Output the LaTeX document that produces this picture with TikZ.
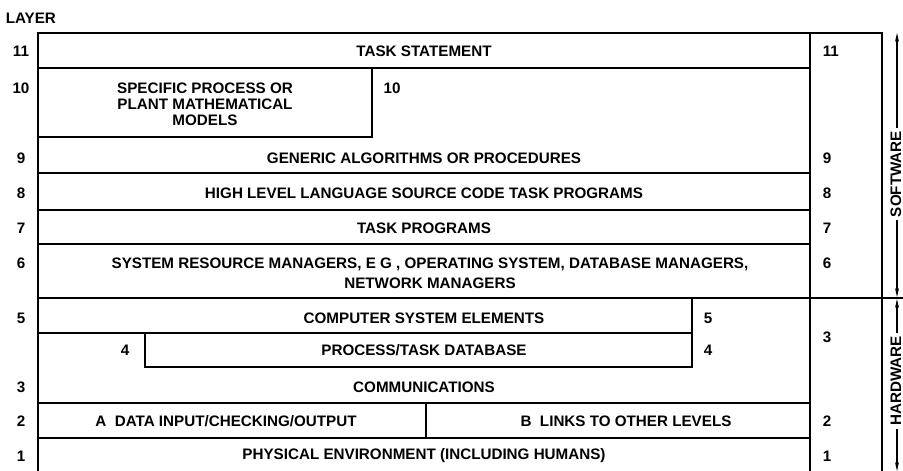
\documentclass[tikz,border=0pt]{standalone}
\usepackage{fontspec}
\setmainfont{Liberation Sans}
\usepackage{tikz}
\usetikzlibrary{arrows.meta}
\tikzstyle{texto}=[inner sep=0pt,font=\fontsize{15.2}{16}\selectfont\bfseries]
\tikzstyle{num}=[texto,anchor=west]
\tikzstyle{side}=[texto,rotate=90,fill=white,inner sep=2pt]
\tikzstyle{tip}=[-{Stealth[length=9pt,width=4pt]}]

\begin{document}
\begin{tikzpicture}[x=1pt,y=-1pt,line width=1.6pt]
    \useasboundingbox (0,0) rectangle (903,471);
    % frame and columns
    \draw (38,471) -- (38,33) -- (882,33) -- (882,471);
    \draw (810,33) -- (810,471);
    % layer boundaries
    \draw (38,68) -- (810,68);
    \draw (38,137) -- (372,137) -- (372,68);
    \draw (38,173) -- (810,173);
    \draw (38,210) -- (810,210);
    \draw (38,244) -- (810,244);
    \draw (38,298) -- (903,298);
    \draw (38,333) -- (692,333);
    \draw (692,298) -- (692,367) -- (145,367) -- (145,333);
    \draw (38,403) -- (810,403);
    \draw (426,403) -- (426,438);
    \draw (38,438) -- (810,438);

    \node [texto,anchor=west] (lay) at (5,18) {LAYER};
    % layer texts
    \node [texto] (t11) at (424,51) {TASK STATEMENT};
    \node [texto,align=center] (t10) at (205,104) {SPECIFIC PROCESS OR\\PLANT MATHEMATICAL\\MODELS};
    \node [texto] (t9) at (424,158) {GENERIC ALGORITHMS OR PROCEDURES};
    \node [texto] (t8) at (424,193) {HIGH LEVEL LANGUAGE SOURCE CODE TASK PROGRAMS};
    \node [texto] (t7) at (424,228) {TASK PROGRAMS};
    \node [texto,align=center] (t6) at (430,273) {SYSTEM RESOURCE MANAGERS, E G , OPERATING SYSTEM, DATABASE MANAGERS,\\[4pt]NETWORK MANAGERS};
    \node [texto] (t5) at (424,318) {COMPUTER SYSTEM ELEMENTS};
    \node [texto] (t4) at (424,350) {PROCESS/TASK DATABASE};
    \node [texto] (t3) at (424,387) {COMMUNICATIONS};
    \node [texto] (t2a) at (226,421) {A\ \ DATA INPUT/CHECKING/OUTPUT};
    \node [texto] (t2b) at (626,421) {B\ \ LINKS TO OTHER LEVELS};
    \node [texto] (t1) at (424,456) {PHYSICAL ENVIRONMENT (INCLUDING HUMANS)};

    % layer numbers, left
    \node [texto] (l11) at (21,51) {11};
    \node [texto] (l10) at (21,88) {10};
    \node [texto] (l9) at (21,158) {9};
    \node [texto] (l8) at (21,193) {8};
    \node [texto] (l7) at (21,228) {7};
    \node [texto] (l6) at (21,263) {6};
    \node [texto] (l5) at (21,318) {5};
    \node [texto] (l3) at (21,387) {3};
    \node [texto] (l2) at (21,421) {2};
    \node [texto] (l1) at (21,456) {1};
    % layer numbers, inside
    \node [texto] (i10) at (392,88) {10};
    \node [texto] (i4a) at (125,350) {4};
    \node [texto] (i5) at (708,318) {5};
    \node [texto] (i4b) at (708,350) {4};
    % layer numbers, right
    \node [num] (r11) at (822,51) {11};
    \node [num] (r9) at (822,158) {9};
    \node [num] (r8) at (822,193) {8};
    \node [num] (r7) at (822,228) {7};
    \node [num] (r6) at (822,263) {6};
    \node [num] (r3) at (822,337) {3};
    \node [num] (r2) at (822,421) {2};
    \node [num] (r1) at (822,456) {1};

    % software / hardware
    \node [side] (sw) at (896,174) {SOFTWARE};
    \node [side] (hw) at (896,381) {HARDWARE};
    \coordinate (swtop) at (897,33);
    \coordinate (swbot) at (897,297);
    \coordinate (hwtop) at (897,299);
    \coordinate (hwbot) at (897,471);
    \draw [tip,line width=1.4pt] (sw.east -| swtop) -- (swtop);
    \draw [tip,line width=1.4pt] (sw.west -| swbot) -- (swbot);
    \draw [tip,line width=1.4pt] (hw.east -| hwtop) -- (hwtop);
    \draw [tip,line width=1.4pt] (hw.west -| hwbot) -- (hwbot);
\end{tikzpicture}
\end{document}
